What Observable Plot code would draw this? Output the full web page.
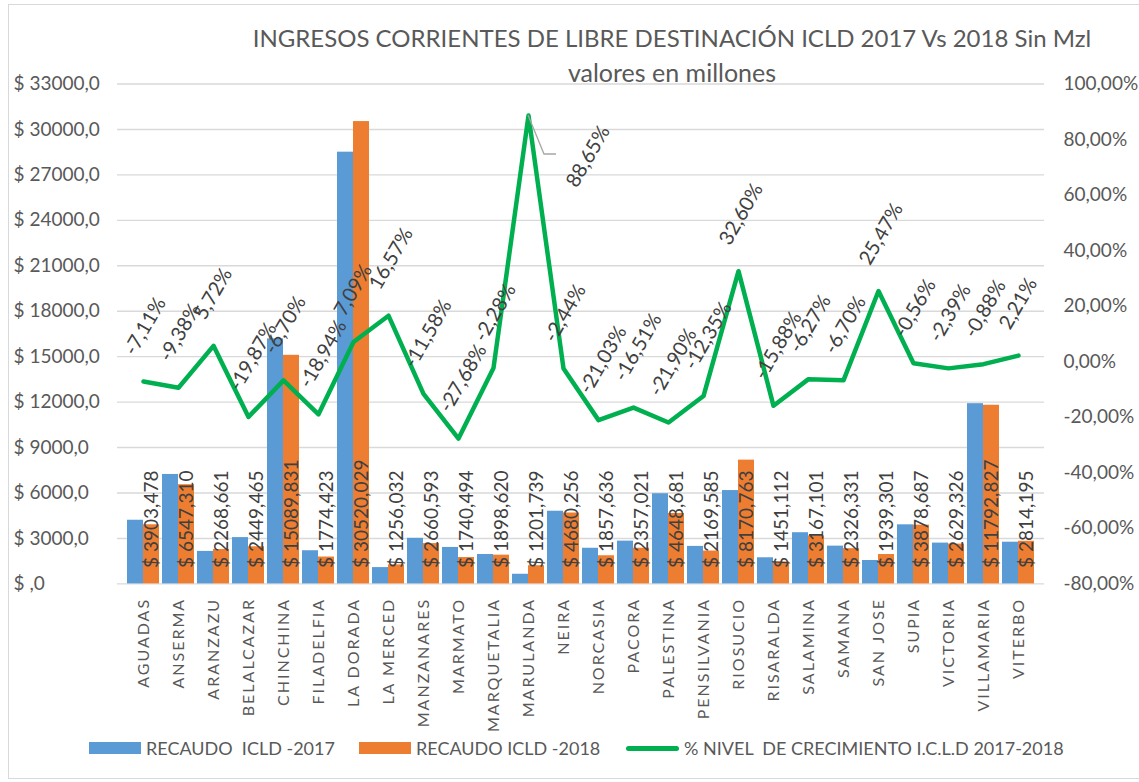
<!DOCTYPE html>
<html><head><meta charset="utf-8">
<script src="https://cdn.jsdelivr.net/npm/d3@7"></script>
<script src="https://cdn.jsdelivr.net/npm/@observablehq/plot@0.6"></script>
<style>
body{margin:0;background:#fff;font-family:Lato,"Open Sans",sans-serif;color:#595959}
#wrap{position:relative;width:1139px;height:782px;overflow:hidden;background:#fff}
#frame{position:absolute;left:8px;top:4px;width:1140px;height:775px;border:1px solid #d9d9d9;box-sizing:border-box}
#title{position:absolute;left:672px;top:21px;transform:translateX(-50%);text-align:center;font-size:24px;line-height:34px;white-space:nowrap;color:#595959}
#title span{font-size:25px}
#chart{position:absolute;left:0;top:0}
.leg{position:absolute;top:737px;font-size:18px;white-space:pre;color:#595959;line-height:22px}
.sw{position:absolute}
g[aria-label="x-axis tick label"] text{letter-spacing:2px}
</style></head>
<body>
<div id="wrap">
  <div id="frame"></div>
  <div id="title">INGRESOS CORRIENTES DE LIBRE DESTINACIÓN ICLD 2017 Vs 2018 Sin Mzl<br><span>valores en millones</span></div>
  <div id="chart"></div>
  <div class="sw" style="left:89px;top:742px;width:52px;height:12px;background:#5B9BD5"></div>
  <div class="leg" style="left:146px">RECAUDO  ICLD -2017</div>
  <div class="sw" style="left:359px;top:742px;width:52px;height:12px;background:#ED7D31"></div>
  <div class="leg" style="left:416px">RECAUDO ICLD -2018</div>
  <div class="sw" style="left:626px;top:746px;width:53px;height:5px;border-radius:3px;background:#00B050"></div>
  <div class="leg" style="left:684px">% NIVEL  DE CRECIMIENTO I.C.L.D 2017-2018</div>
</div>
<script>
const municipios = ["AGUADAS","ANSERMA","ARANZAZU","BELALCAZAR","CHINCHINA","FILADELFIA","LA DORADA","LA MERCED","MANZANARES","MARMATO","MARQUETALIA","MARULANDA","NEIRA","NORCASIA","PACORA","PALESTINA","PENSILVANIA","RIOSUCIO","RISARALDA","SALAMINA","SAMANA","SAN JOSE","SUPIA","VICTORIA","VILLAMARIA","VITERBO"];
const recaudo2017 = [4202.3,7224.9,2145.9,3056.9,16173.4,2189.0,28499.4,1077.5,3009.0,2406.7,1942.9,637.0,4797.3,2352.3,2823.1,5952.2,2475.3,6161.9,1725.1,3379.0,2493.4,1545.6,3900.5,2693.7,11897.5,2753.3];
const recaudo2018 = [3903.478,6547.310,2268.661,2449.465,15089.831,1774.423,30520.029,1256.032,2660.593,1740.494,1898.620,1201.739,4680.256,1857.636,2357.021,4648.681,2169.585,8170.763,1451.112,3167.101,2326.331,1939.301,3878.687,2629.326,11792.827,2814.195];
const crecimiento = [-7.11,-9.38,5.72,-19.87,-6.70,-18.94,7.09,16.57,-11.58,-27.68,-2.28,88.65,-2.44,-21.03,-16.51,-21.90,-12.35,32.60,-15.88,-6.27,-6.70,25.47,-0.56,-2.39,-0.88,2.21];
const ticksPesos = [0,3000,6000,9000,12000,15000,18000,21000,24000,27000,30000,33000];
const ticksPct = [-80,-60,-40,-20,0,20,40,60,80,100];

const pctMin = -80, pctMax = 100, pesosMax = 33000;
const pctToY = p => (p - pctMin) / (pctMax - pctMin) * pesosMax;
const yToPct = v => v / pesosMax * (pctMax - pctMin) + pctMin;
const fmtPct = p => p.toFixed(2).replace(".", ",") + "%";
const fmtMoney = v => "$ " + v.toFixed(3).replace(".", ",");
const fmtTick = v => v === 0 ? "$ ,0" : "$ " + v + ",0";

const rows = municipios.map((name, i) => ({name, v17: recaudo2017[i], v18: recaudo2018[i], p: crecimiento[i], py: pctToY(crecimiento[i])}));
const peak = d3.greatest(rows, d => d.p);
const normal = rows.filter(d => d !== peak);

const font = "Lato, 'Open Sans', sans-serif";
const chart = Plot.plot({
  width: 1139, height: 740,
  marginTop: 83.5, marginBottom: 156.6, marginLeft: 117, marginRight: 95,
  style: {fontFamily: font, color: "#595959", background: "transparent", overflow: "visible"},
  x: {domain: municipios, padding: 0.1, label: null},
  y: {domain: [0, pesosMax], label: null},
  marks: [
    Plot.gridY(ticksPesos, {stroke: "#d9d9d9", strokeOpacity: 1, strokeWidth: 1.4}),
    Plot.barY(rows, {x: "name", y: "v17", fill: "#5B9BD5", insetRight: 16}),
    Plot.barY(rows, {x: "name", y: "v18", fill: "#ED7D31", insetLeft: 16}),
    Plot.axisY(ticksPesos, {anchor: "left", tickSize: 0, tickPadding: 104, textAnchor: "start", tickFormat: fmtTick, fontSize: 19, label: null, fill: "#595959"}),
    Plot.axisY(ticksPct.map(pctToY), {anchor: "right", tickSize: 0, tickPadding: 19, textAnchor: "start", tickFormat: v => fmtPct(Math.round(yToPct(v))), fontSize: 19, label: null, fill: "#595959"}),
    Plot.axisX({anchor: "bottom", tickSize: 0, tickRotate: -90, tickPadding: 14, textAnchor: "end", fontSize: 16, label: null, fill: "#595959"}),
    Plot.lineY(rows, {x: "name", y: "py", stroke: "#00B050", strokeWidth: 4.5, strokeLinejoin: "round"}),
    (index, scales) => {
      const x = scales.x(peak.name) + (scales.x.bandwidth ? scales.x.bandwidth() / 2 : 0);
      const y = scales.y(peak.py);
      return d3.create("svg:path")
        .attr("d", `M${x},${y}L${x + 16},${y + 39}L${x + 28},${y + 39}`)
        .attr("fill", "none").attr("stroke", "#a6a6a6").attr("stroke-width", 1.3).node();
    },
    Plot.text(rows, {x: "name", y: 0, text: d => fmtMoney(d.v18), rotate: -90, textAnchor: "start", dx: 8, dy: -16, fontSize: 19, fill: "#404040"}),
    Plot.text(normal, {x: "name", y: "py", text: d => fmtPct(d.p), rotate: -60, textAnchor: "start", dx: -14, dy: -28, fontSize: 20, fill: "#404040"}),
    Plot.text([peak], {x: "name", y: "py", text: d => fmtPct(d.p), rotate: -60, textAnchor: "start", dx: 43, dy: 70, fontSize: 20, fill: "#404040"})
  ]
});
document.getElementById("chart").appendChild(chart);
</script>
</body></html>
